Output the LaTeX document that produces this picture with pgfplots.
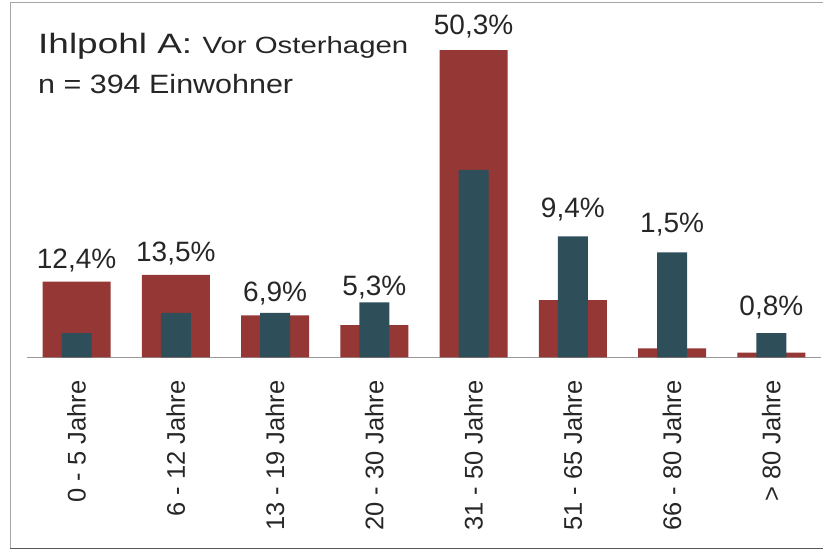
\documentclass[border=0pt]{standalone}
\usepackage{fontspec}
\setmainfont{Liberation Sans}
\newfontfamily\tfontA[FakeStretch=1.32]{Liberation Sans}
\newfontfamily\tfontB[FakeStretch=1.25]{Liberation Sans}
\newfontfamily\tfontC[FakeStretch=1.15]{Liberation Sans}
\usepackage{pgfplots}
\pgfplotsset{compat=1.18}
\definecolor{barred}{RGB}{149,55,53}
\definecolor{barteal}{RGB}{46,79,89}
\definecolor{txt}{RGB}{38,38,38}
\begin{document}
\begin{tikzpicture}
\path[use as bounding box] (0,0) rectangle (823pt,552pt);
\draw[black!35, line width=1pt] (10pt,3pt) -- (10pt,549pt) -- (823pt,549pt);
\draw[black!65, line width=1.2pt] (10pt,3.5pt) -- (823pt,3.5pt);
\node[anchor=base west, inner sep=0pt, text=txt] at (38pt,498.7pt)
  {{\tfontA\fontsize{28}{30}\selectfont Ihlpohl A: }{\tfontB\fontsize{23.5}{26}\selectfont Vor Osterhagen}};
\node[anchor=base west, inner sep=0pt, text=txt] at (38pt,458.7pt)
  {\tfontC\fontsize{26.5}{28}\selectfont n = 394 Einwohner};
\begin{axis}[
  at={(27pt,194.5pt)}, anchor=south west,
  scale only axis, width=794pt, height=357.5pt,
  xmin=-0.5, xmax=7.5, ymin=0, ymax=58.48,
  axis y line=none, axis x line=bottom,
  x axis line style={-, draw=black!40, line width=1.2pt},
  xtick={0,...,7},
  xticklabels={0 - 5 Jahre, 6 - 12 Jahre, 13 - 19 Jahre, 20 - 30 Jahre, 31 - 50 Jahre, 51 - 65 Jahre, 66 - 80 Jahre, > 80 Jahre},
  major tick length=0pt,
  xticklabel style={rotate=90, anchor=east, inner sep=0pt, font=\fontsize{25.5}{25.5}\selectfont, text=txt},
  xticklabel shift=23pt,
  clip=false,
]
\addplot[ybar, bar width=68pt, bar shift=0pt, fill=barred, draw=none]
  coordinates {(0,12.4) (1,13.5) (2,6.9) (3,5.3) (4,50.3) (5,9.4) (6,1.5) (7,0.8)};
\addplot[ybar, bar width=30pt, bar shift=0pt, fill=barteal, draw=none]
  coordinates {(0,4.0) (1,7.3) (2,7.3) (3,9.0) (4,30.7) (5,19.8) (6,17.2) (7,4.0)};
\addplot[draw=none, mark=none, nodes near coords, point meta=explicit symbolic,
  every node near coord/.append style={anchor=base, inner sep=0pt, font=\fontsize{28}{28}\selectfont, text=txt}]
  coordinates {(0,14.6) [12,4\%] (1,15.67) [13,5\%] (2,9.13) [6,9\%] (3,10.22) [5,3\%]
               (4,52.87) [50,3\%] (5,22.82) [9,4\%] (6,20.37) [1,5\%] (7,6.95) [0,8\%]};
\end{axis}
\end{tikzpicture}
\end{document}
